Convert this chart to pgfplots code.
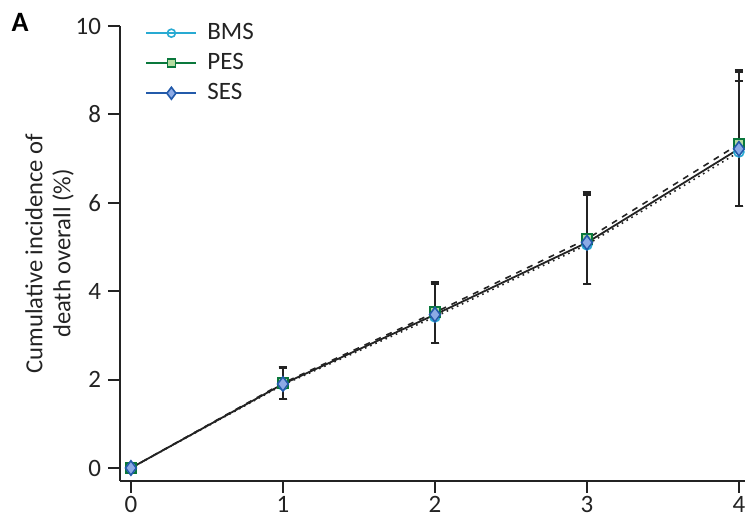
\documentclass[border=0pt]{standalone}
\usepackage{pgfplots}
\pgfplotsset{compat=1.18}
\usepackage{fontspec}
\setmainfont{Carlito}
\definecolor{bmsc}{RGB}{40,170,210}
\definecolor{pesc}{RGB}{10,120,60}
\definecolor{pesf}{RGB}{180,220,160}
\definecolor{sesc}{RGB}{35,90,170}
\definecolor{sesf}{RGB}{140,170,230}
\definecolor{axc}{RGB}{35,35,35}
\begin{document}
\begin{tikzpicture}
\useasboundingbox (-60pt,-19pt) rectangle (312.5pt,240.5pt);
\begin{axis}[
  at={(0,0)}, anchor=south west,
  scale only axis, width=312.5pt, height=227.5pt,
  xmin=-0.072, xmax=4.04, ymin=-0.294, ymax=10,
  axis lines*=left,
  axis line style={line width=1pt, color=axc, -},
  tick style={line width=1pt, color=axc},
  tick align=outside, major tick length=6pt,
  xtick={0,1,2,3,4}, ytick={0,2,4,6,8,10},
  /pgf/number format/assume math mode=true,
  tick label style={font=\fontsize{12.5}{14}\selectfont, text=axc},
  xticklabel style={yshift=2pt},
  ylabel={Cumulative incidence of\\death overall (\%)},
  ylabel style={align=center, font=\fontsize{12.3}{14}\selectfont, text=axc, yshift=-6pt},
  clip=false,
  legend style={draw=none, fill=none, at={(rel axis cs:0.04,1.015)}, anchor=north west,
    font=\fontsize{12.5}{14}\selectfont, row sep=1.4pt, inner sep=0pt,
    text=axc, nodes={inner xsep=5pt}},
  legend cell align=left,
  legend image code/.code={
    \draw[#1, mark repeat=2, mark phase=2] plot coordinates {(0pt,0pt) (12.5pt,0pt) (25pt,0pt)};
  },
  error bars/error bar style={line width=1pt, color=axc},
  error bars/error mark options={rotate=90, mark size=2.2pt, line width=1.2pt, color=axc},
]
\addlegendimage{color=bmsc, line width=1pt, mark=o, mark size=2pt, mark options={fill=white, line width=0.8pt}}
\addlegendentry{BMS}
\addlegendimage{color=pesc, line width=1pt, mark=square*, mark size=2pt, mark options={fill=pesf, draw=pesc, line width=0.8pt}}
\addlegendentry{PES}
\addlegendimage{color=sesc, line width=1pt, mark=diamond*, mark size=3pt, mark options={fill=sesf, draw=sesc, line width=0.8pt}}
\addlegendentry{SES}

% BMS: dotted
\addplot+[forget plot, color=axc, line width=0.8pt, dotted, mark=o, mark size=2.5pt,
  mark options={solid, draw=bmsc, fill=white, line width=0.8pt},
  error bars/.cd, y dir=both, y explicit]
  coordinates {
  (0,0) +- (0,0)
  (1,1.88) += (0,0.38) -= (0,0.32)
  (2,3.42) += (0,0.74) -= (0,0.59)
  (3,5.05) += (0,1.12) -= (0,0.89)
  (4,7.15) += (0,1.60) -= (0,1.22)
  };
% PES: dashed
\addplot+[forget plot, color=axc, line width=0.8pt, dashed, mark=square*, mark size=2.6pt,
  mark options={solid, draw=pesc, fill=pesf, line width=0.8pt},
  error bars/.cd, y dir=both, y explicit]
  coordinates {
  (0,0) +- (0,0)
  (1,1.92) += (0,0.36) -= (0,0.36)
  (2,3.52) += (0,0.69) -= (0,0.69)
  (3,5.18) += (0,1.06) -= (0,1.02)
  (4,7.33) += (0,1.67) -= (0,1.40)
  };
% SES: solid
\addplot+[forget plot, color=axc, line width=0.9pt, solid, mark=diamond*, mark size=3.6pt,
  mark options={solid, draw=sesc, fill=sesf, line width=0.8pt},
  error bars/.cd, y dir=both, y explicit]
  coordinates {
  (0,0) +- (0,0)
  (1,1.90) += (0,0.37) -= (0,0.34)
  (2,3.47) += (0,0.72) -= (0,0.64)
  (3,5.10) += (0,1.13) -= (0,0.94)
  (4,7.22) += (0,1.75) -= (0,1.29)
  };
\end{axis}
\node[font=\fontsize{14}{15}\selectfont\bfseries, text=black] at (-50pt,229.5pt) {A};
\end{tikzpicture}
\end{document}
